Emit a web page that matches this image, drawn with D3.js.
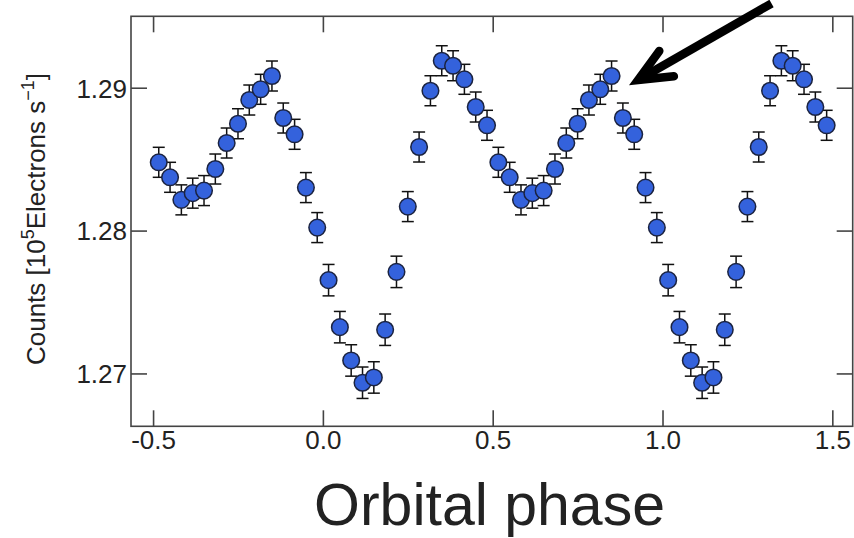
<!DOCTYPE html>
<html>
<head>
<meta charset="utf-8">
<script src="https://cdn.jsdelivr.net/npm/d3@7"></script>
<style>
  html, body { margin: 0; padding: 0; background: #fff; }
  svg { display: block; }
  text { font-family: "Liberation Sans", Arial, Helvetica, sans-serif; fill: #222; }
</style>
</head>
<body>
<svg id="chart" width="854" height="538"></svg>
<script>
// ---- data ----
const phases = [
  -0.4833, -0.4500, -0.4167, -0.3833, -0.3500, -0.3167, -0.2833, -0.2500, -0.2167, -0.1833,
  -0.1500, -0.1167, -0.0833, -0.0500, -0.0167, 0.0167, 0.0500, 0.0833, 0.1167, 0.1500,
  0.1833, 0.2167, 0.2500, 0.2833, 0.3167, 0.3500, 0.3833, 0.4167, 0.4500, 0.4833,
  0.5167, 0.5500, 0.5833, 0.6167, 0.6500, 0.6833, 0.7167, 0.7500, 0.7833, 0.8167,
  0.8500, 0.8833, 0.9167, 0.9500, 0.9833, 1.0167, 1.0500, 1.0833, 1.1167, 1.1500,
  1.1833, 1.2167, 1.2500, 1.2833, 1.3167, 1.3500, 1.3833, 1.4167, 1.4500, 1.4833
];
const counts = [
  1.28478, 1.28373, 1.28215, 1.28262, 1.28280, 1.28431, 1.28613, 1.28748, 1.28914, 1.28989,
  1.29082, 1.28788, 1.28674, 1.28301, 1.28021, 1.27653, 1.27324, 1.27091, 1.26935, 1.26972,
  1.27306, 1.27711, 1.28168, 1.28585, 1.28979, 1.29189, 1.29154, 1.29059, 1.28865, 1.28737,
  1.28478, 1.28373, 1.28215, 1.28262, 1.28280, 1.28431, 1.28613, 1.28748, 1.28914, 1.28989,
  1.29082, 1.28788, 1.28674, 1.28301, 1.28021, 1.27653, 1.27324, 1.27091, 1.26935, 1.26972,
  1.27306, 1.27711, 1.28168, 1.28585, 1.28979, 1.29189, 1.29154, 1.29059, 1.28865, 1.28737
];
const errors = [
  0.00105, 0.00105, 0.00105, 0.00105, 0.00105, 0.00105, 0.00105, 0.00105, 0.00105, 0.00105,
  0.00105, 0.00105, 0.00105, 0.00105, 0.00105, 0.00110, 0.00110, 0.00110, 0.00110, 0.00110,
  0.00110, 0.00110, 0.00105, 0.00105, 0.00105, 0.00105, 0.00105, 0.00105, 0.00105, 0.00105,
  0.00105, 0.00105, 0.00105, 0.00105, 0.00105, 0.00105, 0.00105, 0.00105, 0.00105, 0.00105,
  0.00105, 0.00105, 0.00105, 0.00105, 0.00105, 0.00110, 0.00110, 0.00110, 0.00110, 0.00110,
  0.00110, 0.00110, 0.00105, 0.00105, 0.00105, 0.00105, 0.00105, 0.00105, 0.00105, 0.00105
];
const xTicks = [-0.5, 0.0, 0.5, 1.0, 1.5];
const xTickLabels = ["-0.5", "0.0", "0.5", "1.0", "1.5"];
const yTicks = [1.27, 1.28, 1.29];
const yTickLabels = ["1.27", "1.28", "1.29"];
const xDomain = [-0.565, 1.560];
const yDomain = [1.2663, 1.2950];
// annotation arrow (data coords): tail -> tip
const arrowTail = [1.321, 1.2959];
const arrowTip = [0.928, 1.29054];

// ---- layout ----
const svg = d3.select("#chart");
const mLeft = 131, mRight = 852.7, mTop = 16.3, mBottom = 426.3;
const x = d3.scaleLinear().domain(xDomain).range([mLeft, mRight]);
const y = d3.scaleLinear().domain(yDomain).range([mBottom, mTop]);
const tickLen = 16;
const frameColor = "#444";

// frame
svg.append("rect")
  .attr("x", mLeft).attr("y", mTop)
  .attr("width", mRight - mLeft).attr("height", mBottom - mTop)
  .attr("fill", "none").attr("stroke", frameColor).attr("stroke-width", 1.6);

// axes (inward ticks)
const fmtX = (d) => xTickLabels[xTicks.indexOf(d)];
const fmtY = (d) => yTickLabels[yTicks.indexOf(d)];

const gx = svg.append("g").attr("transform", `translate(0,${mBottom})`)
  .call(d3.axisBottom(x).tickValues(xTicks).tickFormat(fmtX).tickSizeInner(-tickLen).tickSizeOuter(0));
const gxTop = svg.append("g").attr("transform", `translate(0,${mTop})`)
  .call(d3.axisTop(x).tickValues(xTicks).tickFormat(() => "").tickSizeInner(-tickLen).tickSizeOuter(0));
const gy = svg.append("g").attr("transform", `translate(${mLeft},0)`)
  .call(d3.axisLeft(y).tickValues(yTicks).tickFormat(fmtY).tickSizeInner(-tickLen).tickSizeOuter(0));
const gyRight = svg.append("g").attr("transform", `translate(${mRight},0)`)
  .call(d3.axisRight(y).tickValues(yTicks).tickFormat(() => "").tickSizeInner(-tickLen).tickSizeOuter(0));

[gx, gxTop, gy, gyRight].forEach(g => {
  g.select(".domain").remove();
  g.selectAll(".tick line").attr("stroke", frameColor).attr("stroke-width", 1.6);
  g.selectAll(".tick text").attr("font-size", 26).attr("fill", "#222")
    .attr("font-family", "'Liberation Sans', Arial, sans-serif");
});
gy.selectAll(".tick text").attr("x", -4).attr("dy", "0.36em");
gx.selectAll(".tick text").attr("y", 4.5).attr("dy", "0.71em");

// data
const data = phases.map((p, i) => ({ p, c: counts[i], e: errors[i] }));
const capW = 6;
const eb = svg.append("g").attr("stroke", "#111").attr("stroke-width", 1.5).attr("fill", "none");
data.forEach(d => {
  const cx = x(d.p), y1 = y(d.c + d.e), y2 = y(d.c - d.e);
  eb.append("line").attr("x1", cx).attr("x2", cx).attr("y1", y1).attr("y2", y2);
  eb.append("line").attr("x1", cx - capW).attr("x2", cx + capW).attr("y1", y1).attr("y2", y1);
  eb.append("line").attr("x1", cx - capW).attr("x2", cx + capW).attr("y1", y2).attr("y2", y2);
});
svg.append("g").selectAll("circle").data(data).join("circle")
  .attr("cx", d => x(d.p)).attr("cy", d => y(d.c)).attr("r", 8.3)
  .attr("fill", "#3462dc").attr("stroke", "#1b2340").attr("stroke-width", 1.5);

// labels
svg.append("text")
  .attr("transform", `translate(45,219) rotate(-90)`)
  .attr("text-anchor", "middle").attr("font-size", 26).attr("fill", "#222")
  .call(t => {
    t.append("tspan").text("Counts [10");
    t.append("tspan").attr("font-size", 18).attr("dy", -11).text("5");
    t.append("tspan").attr("dy", 11).text("Electrons s");
    t.append("tspan").attr("font-size", 18).attr("dy", -11).text("\u22121");
    t.append("tspan").attr("dy", 11).text("]");
  });

svg.append("text")
  .attr("x", 489.5).attr("y", 525)
  .attr("text-anchor", "middle").attr("font-size", 59).attr("fill", "#222")
  .text("Orbital phase");

// arrow annotation
const tipX = x(arrowTip[0]), tipY = y(arrowTip[1]);
const tailX = x(arrowTail[0]), tailY = y(arrowTail[1]);
const ang = Math.atan2(tailY - tipY, tailX - tipX);
const barbLen = 36, barbAng = 24 * Math.PI / 180;
const b1 = [tipX + barbLen * Math.cos(ang - barbAng), tipY + barbLen * Math.sin(ang - barbAng)];
const b2 = [tipX + barbLen * Math.cos(ang + barbAng), tipY + barbLen * Math.sin(ang + barbAng)];
const ag = svg.append("g").attr("stroke", "#000").attr("fill", "none").attr("stroke-width", 8.5);
ag.append("line").attr("x1", tailX).attr("y1", tailY).attr("x2", tipX + 4 * Math.cos(ang)).attr("y2", tipY + 4 * Math.sin(ang));
ag.append("path").attr("d", `M${b1[0]},${b1[1]}L${tipX},${tipY}L${b2[0]},${b2[1]}`)
  .attr("stroke-linejoin", "miter").attr("stroke-miterlimit", 10).attr("stroke-linecap", "round");
</script>
</body>
</html>
